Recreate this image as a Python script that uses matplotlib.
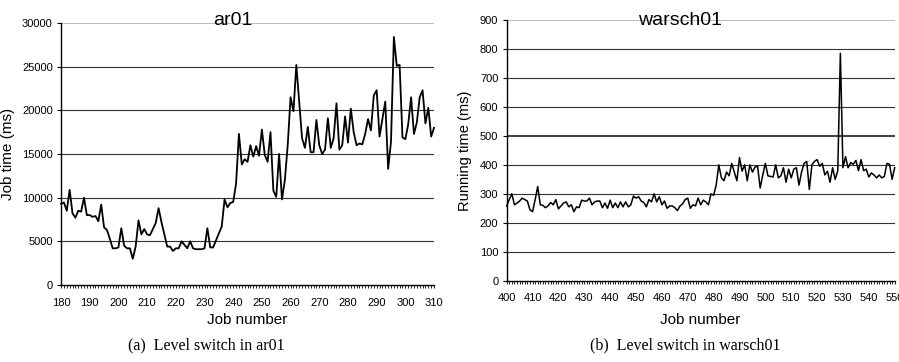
import matplotlib
matplotlib.use("Agg")
import matplotlib.pyplot as plt
from matplotlib.ticker import MultipleLocator

# ---------------- data ----------------
ar01_start = 180
ar01_times = [
    9300, 9450, 8500, 10900, 8200, 7700, 8500, 8400, 10000, 8000,   # 180-189
    8000, 7800, 7900, 7300, 9200, 6600, 6300, 5300, 4200, 4200,     # 190-199
    4300, 6500, 4500, 4200, 4200, 3000, 4400, 7400, 5800, 6400,     # 200-209
    5800, 5700, 6400, 7100, 8800, 7200, 5800, 4400, 4400, 3900,     # 210-219
    4200, 4200, 5000, 4600, 4200, 5000, 4200, 4100, 4100, 4100,     # 220-229
    4200, 6500, 4300, 4300, 5100, 5900, 6700, 9800, 8900, 9400,     # 230-239
    9500, 11600, 17300, 13800, 14400, 14100, 16000, 14700, 15900, 14800,  # 240-249
    17800, 14900, 14100, 17500, 10800, 10100, 15000, 9800, 12000, 16000,  # 250-259
    21500, 19900, 25200, 21000, 16800, 15700, 18100, 15200, 15200, 18900,  # 260-269
    16000, 15000, 15500, 19100, 15700, 16800, 20800, 15500, 16000, 19300,  # 270-279
    16300, 20200, 17500, 16000, 16200, 16100, 17300, 19000, 17700, 21700,  # 280-289
    22300, 17000, 19000, 21000, 13300, 16400, 28400, 25100, 25200, 16900,  # 290-299
    16700, 18400, 21500, 17300, 18600, 21500, 22300, 18500, 20300, 17000,  # 300-309
    18000,                                                               # 310
]
ar01_jobs = list(range(ar01_start, ar01_start + len(ar01_times)))

warsch_start = 400
warsch_times = [
    258, 280, 300, 262, 268, 275, 285, 280, 275, 245,   # 400-409
    238, 280, 325, 262, 260, 252, 258, 270, 262, 280,   # 410-419
    248, 258, 268, 272, 255, 262, 238, 255, 252, 278,   # 420-429
    275, 275, 285, 262, 272, 275, 275, 252, 268, 250,   # 430-439
    278, 252, 268, 252, 272, 255, 272, 255, 262, 292,   # 440-449
    285, 290, 275, 270, 255, 280, 272, 300, 272, 290,   # 450-459
    262, 275, 250, 258, 258, 252, 242, 258, 265, 280,   # 460-469
    285, 250, 262, 258, 285, 262, 278, 272, 262, 300,   # 470-479
    295, 330, 400, 355, 345, 375, 362, 405, 375, 345,   # 480-489
    425, 378, 400, 345, 400, 375, 392, 395, 320, 365,   # 490-499
    405, 362, 360, 358, 400, 355, 362, 390, 340, 385,   # 500-509
    355, 385, 390, 330, 375, 405, 412, 315, 400, 412,   # 510-519
    418, 395, 405, 365, 378, 340, 390, 350, 380, 785,   # 520-529
    390, 428, 390, 408, 402, 415, 380, 418, 380, 385,   # 530-539
    358, 372, 365, 355, 365, 355, 360, 405, 402, 350,   # 540-549
    390,                                                # 550
]
warsch_jobs = list(range(warsch_start, warsch_start + len(warsch_times)))

left_yticks = [0, 5000, 10000, 15000, 20000, 25000, 30000]
left_xticks = list(range(180, 311, 10))
right_yticks = [0, 100, 200, 300, 400, 500, 600, 700, 800, 900]
right_xticks = list(range(400, 551, 10))

# ---------------- figure ----------------
SANS = ["Liberation Sans", "DejaVu Sans"]
SERIF = ["Liberation Serif", "DejaVu Serif"]
plt.rcParams["font.family"] = SANS

fig = plt.figure(figsize=(8.99, 3.62), dpi=100)

ax1 = fig.add_axes([0.0679, 0.2127, 0.4149, 0.7238])
ax2 = fig.add_axes([0.5636, 0.2246, 0.4316, 0.7202])


def style(ax, xticks, yticks, top_col, thick_val=None):
    ax.set_xlim(xticks[0], xticks[-1])
    ax.set_ylim(yticks[0], yticks[-1])
    ax.set_xticks(xticks)
    ax.set_yticks(yticks)
    ax.xaxis.set_minor_locator(MultipleLocator(1))
    for s in ("top", "right"):
        ax.spines[s].set_visible(False)
    for s in ("left", "bottom"):
        ax.spines[s].set_color("black")
        ax.spines[s].set_linewidth(1.0)
        ax.spines[s].set_zorder(4)
    ax.tick_params(axis="x", which="major", direction="out", length=2.5,
                   width=0.6, pad=6.5, labelsize=8)
    ax.tick_params(axis="x", which="minor", direction="out", length=2.0,
                   width=0.6)
    ax.tick_params(axis="y", which="major", direction="out", length=3,
                   width=0.8, pad=3, labelsize=8)
    for v in yticks[1:]:
        if v == yticks[-1]:
            ax.axhline(v, color=top_col, lw=1.3, zorder=1)
        elif thick_val is not None and v == thick_val:
            ax.axhline(v, color="#444444", lw=1.5, zorder=1)
        else:
            ax.axhline(v, color="#333333", lw=0.8, zorder=1)


style(ax1, left_xticks, left_yticks, "#b5b5b5")
style(ax2, right_xticks, right_yticks, "#b5b5b5", thick_val=500)

ax1.plot(ar01_jobs, ar01_times, color="black", lw=1.3, zorder=3,
         clip_on=False)
ax2.plot(warsch_jobs, warsch_times, color="black", lw=1.1, zorder=3,
         clip_on=False)

ax1.text(0.461, 0.994, "ar01", transform=ax1.transAxes, ha="center",
         va="baseline", fontsize=14, zorder=5)
ax2.text(0.447, 0.981, "warsch01", transform=ax2.transAxes, ha="center",
         va="baseline", fontsize=14, zorder=5)

ax1.set_ylabel("Job time (ms)", fontsize=11)
ax1.yaxis.set_label_coords(-0.123, 0.5)
ax1.set_xlabel("Job number", fontsize=11)
ax1.xaxis.set_label_coords(0.499, -0.107)

ax2.set_ylabel("Running time (ms)", fontsize=10.5)
ax2.yaxis.set_label_coords(-0.089, 0.5)
ax2.set_xlabel("Job number", fontsize=11)
ax2.xaxis.set_label_coords(0.498, -0.124)

fig.text(206 / 899, 1 - 345 / 362, "(a)  Level switch in ar01",
         ha="center", va="center", fontsize=11.5, family=SERIF)
fig.text(685 / 899, 1 - 345 / 362, "(b)  Level switch in warsch01",
         ha="center", va="center", fontsize=11.5, family=SERIF)

fig.savefig("out.png", dpi=100)
